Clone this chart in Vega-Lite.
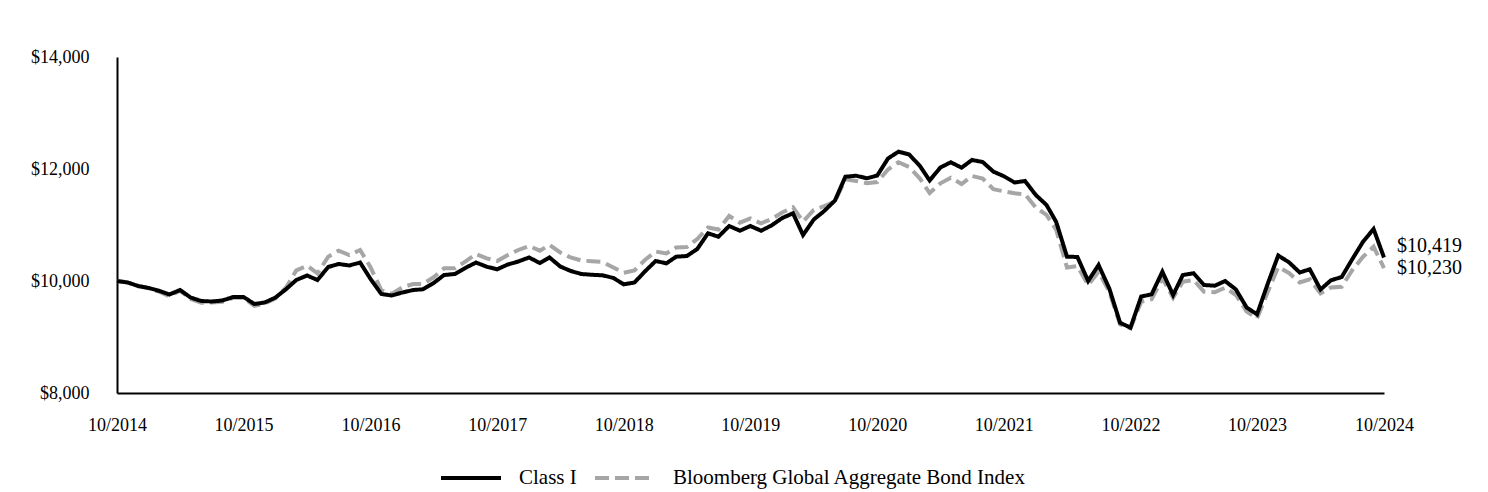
{
  "$schema": "https://vega.github.io/schema/vega-lite/v6.json",
  "width": 1267,
  "height": 336,
  "autosize": {"type": "none"},
  "padding": {"left": 117, "top": 57, "right": 104, "bottom": 99},
  "background": "white",
  "config": {
    "view": {"stroke": null},
    "font": "Liberation Serif",
    "axis": {"labelFont": "Liberation Serif", "labelFontSize": 18, "labelColor": "#000", "domainColor": "#000", "domainWidth": 2, "ticks": false, "tickSize": 0, "grid": false, "title": null}
  },
  "data": {"values": [
    {"date": "2014/10/01", "ClassI": 10000, "Index": 10000},
    {"date": "2014/11/01", "ClassI": 9973, "Index": 9975},
    {"date": "2014/12/01", "ClassI": 9911, "Index": 9905},
    {"date": "2015/01/01", "ClassI": 9875, "Index": 9870},
    {"date": "2015/02/01", "ClassI": 9821, "Index": 9805},
    {"date": "2015/03/01", "ClassI": 9759, "Index": 9730},
    {"date": "2015/04/01", "ClassI": 9840, "Index": 9825},
    {"date": "2015/05/01", "ClassI": 9705, "Index": 9680},
    {"date": "2015/06/01", "ClassI": 9643, "Index": 9610},
    {"date": "2015/07/01", "ClassI": 9634, "Index": 9615},
    {"date": "2015/08/01", "ClassI": 9652, "Index": 9630},
    {"date": "2015/09/01", "ClassI": 9714, "Index": 9700},
    {"date": "2015/10/01", "ClassI": 9714, "Index": 9700},
    {"date": "2015/11/01", "ClassI": 9589, "Index": 9555},
    {"date": "2015/12/01", "ClassI": 9616, "Index": 9595},
    {"date": "2016/01/01", "ClassI": 9705, "Index": 9690},
    {"date": "2016/02/01", "ClassI": 9857, "Index": 9890},
    {"date": "2016/03/01", "ClassI": 10018, "Index": 10190},
    {"date": "2016/04/01", "ClassI": 10098, "Index": 10273},
    {"date": "2016/05/01", "ClassI": 10018, "Index": 10136},
    {"date": "2016/06/01", "ClassI": 10250, "Index": 10434},
    {"date": "2016/07/01", "ClassI": 10304, "Index": 10541},
    {"date": "2016/08/01", "ClassI": 10277, "Index": 10464},
    {"date": "2016/09/01", "ClassI": 10330, "Index": 10554},
    {"date": "2016/10/01", "ClassI": 10036, "Index": 10245},
    {"date": "2016/11/01", "ClassI": 9768, "Index": 9839},
    {"date": "2016/12/01", "ClassI": 9741, "Index": 9768},
    {"date": "2017/01/01", "ClassI": 9795, "Index": 9888},
    {"date": "2017/02/01", "ClassI": 9839, "Index": 9946},
    {"date": "2017/03/01", "ClassI": 9852, "Index": 9946},
    {"date": "2017/04/01", "ClassI": 9964, "Index": 10066},
    {"date": "2017/05/01", "ClassI": 10107, "Index": 10227},
    {"date": "2017/06/01", "ClassI": 10125, "Index": 10227},
    {"date": "2017/07/01", "ClassI": 10232, "Index": 10345},
    {"date": "2017/08/01", "ClassI": 10330, "Index": 10482},
    {"date": "2017/09/01", "ClassI": 10255, "Index": 10405},
    {"date": "2017/10/01", "ClassI": 10209, "Index": 10357},
    {"date": "2017/11/01", "ClassI": 10295, "Index": 10464},
    {"date": "2017/12/01", "ClassI": 10348, "Index": 10554},
    {"date": "2018/01/01", "ClassI": 10420, "Index": 10625},
    {"date": "2018/02/01", "ClassI": 10321, "Index": 10541},
    {"date": "2018/03/01", "ClassI": 10420, "Index": 10643},
    {"date": "2018/04/01", "ClassI": 10259, "Index": 10509},
    {"date": "2018/05/01", "ClassI": 10179, "Index": 10420},
    {"date": "2018/06/01", "ClassI": 10125, "Index": 10366},
    {"date": "2018/07/01", "ClassI": 10111, "Index": 10352},
    {"date": "2018/08/01", "ClassI": 10102, "Index": 10339},
    {"date": "2018/09/01", "ClassI": 10054, "Index": 10241},
    {"date": "2018/10/01", "ClassI": 9941, "Index": 10148},
    {"date": "2018/11/01", "ClassI": 9973, "Index": 10188},
    {"date": "2018/12/01", "ClassI": 10170, "Index": 10375},
    {"date": "2019/01/01", "ClassI": 10357, "Index": 10527},
    {"date": "2019/02/01", "ClassI": 10316, "Index": 10491},
    {"date": "2019/03/01", "ClassI": 10434, "Index": 10598},
    {"date": "2019/04/01", "ClassI": 10446, "Index": 10607},
    {"date": "2019/05/01", "ClassI": 10571, "Index": 10750},
    {"date": "2019/06/01", "ClassI": 10852, "Index": 10955},
    {"date": "2019/07/01", "ClassI": 10791, "Index": 10920},
    {"date": "2019/08/01", "ClassI": 10982, "Index": 11161},
    {"date": "2019/09/01", "ClassI": 10898, "Index": 11041},
    {"date": "2019/10/01", "ClassI": 10982, "Index": 11116},
    {"date": "2019/11/01", "ClassI": 10898, "Index": 11030},
    {"date": "2019/12/01", "ClassI": 10991, "Index": 11107},
    {"date": "2020/01/01", "ClassI": 11125, "Index": 11223},
    {"date": "2020/02/01", "ClassI": 11209, "Index": 11316},
    {"date": "2020/03/01", "ClassI": 10821, "Index": 11063},
    {"date": "2020/04/01", "ClassI": 11098, "Index": 11268},
    {"date": "2020/05/01", "ClassI": 11250, "Index": 11339},
    {"date": "2020/06/01", "ClassI": 11437, "Index": 11420},
    {"date": "2020/07/01", "ClassI": 11862, "Index": 11816},
    {"date": "2020/08/01", "ClassI": 11880, "Index": 11786},
    {"date": "2020/09/01", "ClassI": 11834, "Index": 11745},
    {"date": "2020/10/01", "ClassI": 11884, "Index": 11768},
    {"date": "2020/11/01", "ClassI": 12188, "Index": 11991},
    {"date": "2020/12/01", "ClassI": 12309, "Index": 12120},
    {"date": "2021/01/01", "ClassI": 12259, "Index": 12036},
    {"date": "2021/02/01", "ClassI": 12054, "Index": 11830},
    {"date": "2021/03/01", "ClassI": 11795, "Index": 11571},
    {"date": "2021/04/01", "ClassI": 12027, "Index": 11745},
    {"date": "2021/05/01", "ClassI": 12120, "Index": 11845},
    {"date": "2021/06/01", "ClassI": 12023, "Index": 11732},
    {"date": "2021/07/01", "ClassI": 12161, "Index": 11875},
    {"date": "2021/08/01", "ClassI": 12125, "Index": 11830},
    {"date": "2021/09/01", "ClassI": 11952, "Index": 11638},
    {"date": "2021/10/01", "ClassI": 11871, "Index": 11602},
    {"date": "2021/11/01", "ClassI": 11759, "Index": 11566},
    {"date": "2021/12/01", "ClassI": 11786, "Index": 11548},
    {"date": "2022/01/01", "ClassI": 11536, "Index": 11313},
    {"date": "2022/02/01", "ClassI": 11357, "Index": 11179},
    {"date": "2022/03/01", "ClassI": 11054, "Index": 10911},
    {"date": "2022/04/01", "ClassI": 10434, "Index": 10241},
    {"date": "2022/05/01", "ClassI": 10429, "Index": 10268},
    {"date": "2022/06/01", "ClassI": 10000, "Index": 9929},
    {"date": "2022/07/01", "ClassI": 10286, "Index": 10166},
    {"date": "2022/08/01", "ClassI": 9866, "Index": 9807},
    {"date": "2022/09/01", "ClassI": 9255, "Index": 9223},
    {"date": "2022/10/01", "ClassI": 9166, "Index": 9155},
    {"date": "2022/11/01", "ClassI": 9723, "Index": 9630},
    {"date": "2022/12/01", "ClassI": 9762, "Index": 9673},
    {"date": "2023/01/01", "ClassI": 10166, "Index": 10048},
    {"date": "2023/02/01", "ClassI": 9750, "Index": 9702},
    {"date": "2023/03/01", "ClassI": 10107, "Index": 9988},
    {"date": "2023/04/01", "ClassI": 10138, "Index": 10018},
    {"date": "2023/05/01", "ClassI": 9929, "Index": 9809},
    {"date": "2023/06/01", "ClassI": 9916, "Index": 9798},
    {"date": "2023/07/01", "ClassI": 10000, "Index": 9880},
    {"date": "2023/08/01", "ClassI": 9848, "Index": 9750},
    {"date": "2023/09/01", "ClassI": 9527, "Index": 9455},
    {"date": "2023/10/01", "ClassI": 9405, "Index": 9334},
    {"date": "2023/11/01", "ClassI": 9955, "Index": 9809},
    {"date": "2023/12/01", "ClassI": 10455, "Index": 10250},
    {"date": "2024/01/01", "ClassI": 10334, "Index": 10143},
    {"date": "2024/02/01", "ClassI": 10152, "Index": 9973},
    {"date": "2024/03/01", "ClassI": 10209, "Index": 10030},
    {"date": "2024/04/01", "ClassI": 9848, "Index": 9780},
    {"date": "2024/05/01", "ClassI": 10013, "Index": 9884},
    {"date": "2024/06/01", "ClassI": 10071, "Index": 9898},
    {"date": "2024/07/01", "ClassI": 10384, "Index": 10188},
    {"date": "2024/08/01", "ClassI": 10696, "Index": 10429},
    {"date": "2024/09/01", "ClassI": 10929, "Index": 10613},
    {"date": "2024/10/01", "ClassI": 10419, "Index": 10230}
  ]},
  "encoding": {
    "x": {
      "field": "date", "type": "temporal",
      "scale": {"domain": [{"year": 2014, "month": 10, "date": 1}, {"year": 2024, "month": 10, "date": 1}], "nice": false},
      "axis": {
        "values": [
          {"year": 2014, "month": 10, "date": 1}, {"year": 2015, "month": 10, "date": 1},
          {"year": 2016, "month": 10, "date": 1}, {"year": 2017, "month": 10, "date": 1},
          {"year": 2018, "month": 10, "date": 1}, {"year": 2019, "month": 10, "date": 1},
          {"year": 2020, "month": 10, "date": 1}, {"year": 2021, "month": 10, "date": 1},
          {"year": 2022, "month": 10, "date": 1}, {"year": 2023, "month": 10, "date": 1},
          {"year": 2024, "month": 10, "date": 1}
        ],
        "format": "%m/%Y", "labelPadding": 23, "labelBaseline": "top", "labelFlush": false, "labelOverlap": false
      }
    }
  },
  "layer": [
    {
      "mark": {"type": "line", "strokeWidth": 4, "strokeCap": "butt", "strokeJoin": "miter"},
      "encoding": {
        "y": {
          "field": "Index", "type": "quantitative",
          "scale": {"domain": [8000, 14000], "nice": false, "zero": false},
          "axis": {"values": [8000, 10000, 12000, 14000], "format": "$,.0f", "labelPadding": 28, "labelBaseline": "middle"}
        },
        "color": {
          "datum": "Bloomberg Global Aggregate Bond Index",
          "scale": {"domain": ["Class I", "Bloomberg Global Aggregate Bond Index"], "range": ["#000000", "#a6a6a6"]},
          "legend": {
            "title": null, "orient": "none", "direction": "horizontal",
            "legendX": 322, "legendY": 389,
            "symbolType": "stroke", "symbolSize": 3600, "symbolStrokeWidth": 4,
            "labelFont": "Liberation Serif", "labelFontSize": 21, "labelColor": "#000", "labelLimit": 600,
            "labelOffset": 16, "columnPadding": 10, "padding": 0
          }
        },
        "strokeDash": {
          "datum": "Bloomberg Global Aggregate Bond Index",
          "scale": {"domain": ["Class I", "Bloomberg Global Aggregate Bond Index"], "range": [[1, 0], [14, 6]]},
          "legend": null
        }
      }
    },
    {
      "mark": {"type": "line", "strokeWidth": 4, "strokeCap": "butt", "strokeJoin": "miter"},
      "encoding": {
        "y": {"field": "ClassI", "type": "quantitative"},
        "color": {"datum": "Class I"},
        "strokeDash": {"datum": "Class I"}
      }
    },
    {
      "transform": [{"filter": {"field": "date", "timeUnit": "yearmonth", "equal": {"year": 2024, "month": 10}}}],
      "mark": {"type": "text", "align": "left", "baseline": "middle", "dx": 13, "dy": -12, "fontSize": 20, "font": "Liberation Serif", "color": "#000"},
      "encoding": {
        "y": {"field": "ClassI", "type": "quantitative"},
        "text": {"field": "ClassI", "type": "quantitative", "format": "$,.0f"}
      }
    },
    {
      "transform": [{"filter": {"field": "date", "timeUnit": "yearmonth", "equal": {"year": 2024, "month": 10}}}],
      "mark": {"type": "text", "align": "left", "baseline": "middle", "dx": 13, "dy": 0, "fontSize": 20, "font": "Liberation Serif", "color": "#000"},
      "encoding": {
        "y": {"field": "Index", "type": "quantitative"},
        "text": {"field": "Index", "type": "quantitative", "format": "$,.0f"}
      }
    }
  ]
}
